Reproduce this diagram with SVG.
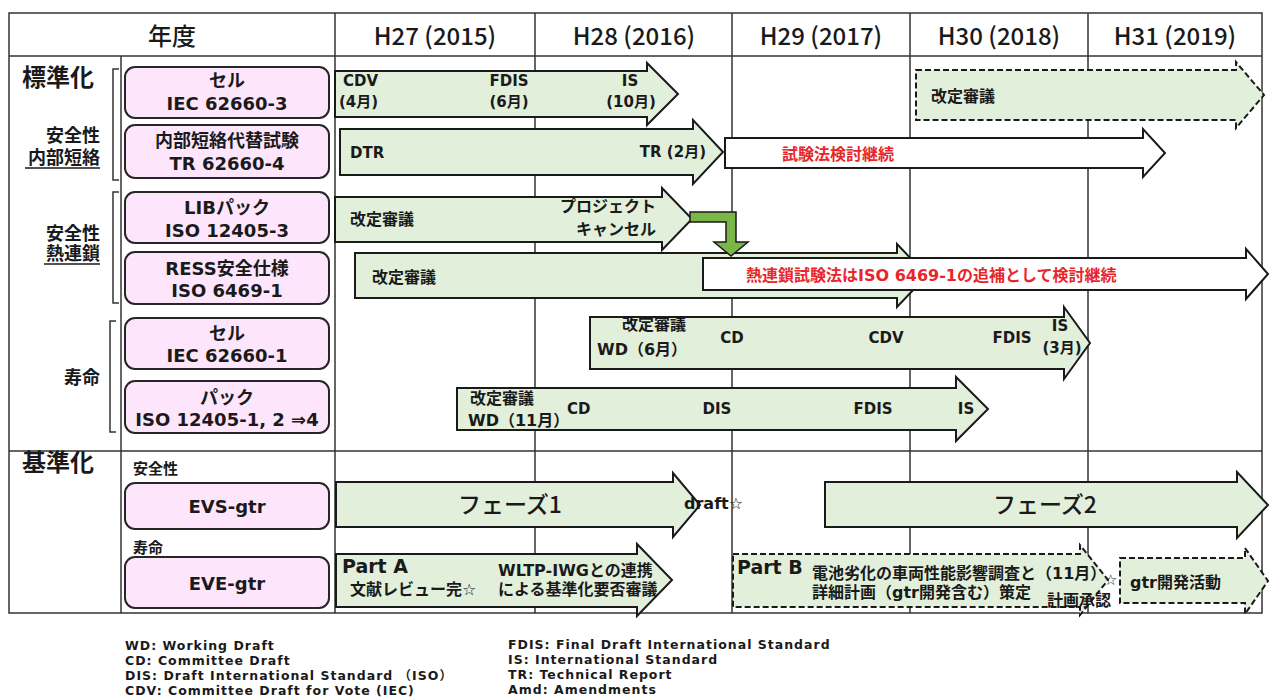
<svg xmlns="http://www.w3.org/2000/svg" width="1271" height="699" viewBox="0 0 1271 699">
<style>
text{font-family:"DejaVu Sans","Noto Sans CJK JP",sans-serif;font-weight:bold;fill:#1a1a1a;dominant-baseline:central}
.hd{font-family:"Noto Sans CJK JP",sans-serif;font-weight:500;font-size:24px;text-anchor:middle}
.grid{stroke:#333;stroke-width:1.5;fill:none}
.box{fill:#fde6fc;stroke:#262626;stroke-width:2}
.bt{font-size:18px;text-anchor:middle}
.cat{font-size:24px}
.sub{font-size:18px;text-anchor:end}
.gs{font-size:15px}
.arr{fill:#e2efda;stroke:#1a1a1a;stroke-width:2}
.dash{fill:#e2efda;stroke:#1a1a1a;stroke-width:2;stroke-dasharray:6 3}
.wh{fill:#fff;stroke:#1a1a1a;stroke-width:2}
.al{font-size:15px}
.cj{font-size:16px}
.mid{text-anchor:middle}
.end{text-anchor:end}
.red{fill:#e8262a}
.ph{font-family:"Noto Sans CJK JP",sans-serif;font-weight:500;font-size:23px;text-anchor:middle}
.pt{font-size:19px}
.lg{font-size:12.5px;letter-spacing:1px}
.brk{stroke:#333;stroke-width:1.5;fill:none}
.ul{stroke:#1a1a1a;stroke-width:1.3}
</style>
<rect width="1271" height="699" fill="#fff"/>
<g id="grid">
<rect class="grid" x="9" y="13" width="1253" height="600"/>
<line class="grid" x1="9" y1="56" x2="1262" y2="56"/>
<line class="grid" x1="9" y1="451" x2="1262" y2="451"/>
<line class="grid" x1="121" y1="56" x2="121" y2="613"/>
<line class="grid" x1="335" y1="13" x2="335" y2="613"/>
<line class="grid" x1="535" y1="13" x2="535" y2="613"/>
<line class="grid" x1="732" y1="13" x2="732" y2="613"/>
<line class="grid" x1="910" y1="13" x2="910" y2="613"/>
<line class="grid" x1="1088" y1="13" x2="1088" y2="613"/>
</g>
<g id="header">
<text class="hd" x="172" y="34">年度</text>
<text class="hd" x="435" y="34">H27 (2015)</text>
<text class="hd" x="634" y="34">H28 (2016)</text>
<text class="hd" x="821" y="34">H29 (2017)</text>
<text class="hd" x="999" y="34">H30 (2018)</text>
<text class="hd" x="1175" y="34">H31 (2019)</text>
</g>
<g id="categories">
<text class="cat" x="22" y="78">標準化</text>
<text class="sub" x="100" y="135">安全性</text>
<text class="sub" x="100" y="157">内部短絡</text>
<line class="ul" x1="25" y1="168" x2="100" y2="168"/>
<text class="sub" x="100" y="233">安全性</text>
<text class="sub" x="100" y="253">熱連鎖</text>
<line class="ul" x1="44" y1="264" x2="100" y2="264"/>
<text class="sub" x="100" y="377">寿命</text>
<path class="brk" d="M119,69 H113 V180 H119"/>
<path class="brk" d="M119,192 H113 V303 H119"/>
<path class="brk" d="M116,321 H110 V432 H116"/>
<text class="cat" x="22" y="463">基準化</text>
<text class="gs" x="133" y="469">安全性</text>
<text class="gs" x="133" y="548">寿命</text>
</g>
<g id="node-cell3">
<rect class="box" x="125" y="67" width="204" height="51" rx="10"/>
<text class="bt" x="227" y="80">セル</text>
<text class="bt" x="227" y="103">IEC 62660-3</text>
</g>
<g id="node-tr4">
<rect class="box" x="125" y="125" width="204" height="53" rx="10"/>
<text class="bt" x="227" y="140">内部短絡代替試験</text>
<text class="bt" x="227" y="163">TR 62660-4</text>
</g>
<g id="node-lib">
<rect class="box" x="125" y="192" width="204" height="51" rx="10"/>
<text class="bt" x="227" y="207">LIBパック</text>
<text class="bt" x="227" y="230">ISO 12405-3</text>
</g>
<g id="node-ress">
<rect class="box" x="125" y="252" width="204" height="52" rx="10"/>
<text class="bt" x="227" y="268">RESS安全仕様</text>
<text class="bt" x="227" y="290">ISO 6469-1</text>
</g>
<g id="node-cell1">
<rect class="box" x="125" y="318" width="204" height="51" rx="10"/>
<text class="bt" x="227" y="333">セル</text>
<text class="bt" x="227" y="355">IEC 62660-1</text>
</g>
<g id="node-pack">
<rect class="box" x="125" y="381" width="204" height="52" rx="10"/>
<text class="bt" x="227" y="397">パック</text>
<text class="bt" x="227" y="419">ISO 12405-1, 2 ⇒4</text>
</g>
<g id="node-evs">
<rect class="box" x="125" y="483" width="204" height="46" rx="10"/>
<text class="bt" x="227" y="506">EVS-gtr</text>
</g>
<g id="node-eve">
<rect class="box" x="125" y="557" width="204" height="51" rx="10"/>
<text class="bt" x="227" y="583">EVE-gtr</text>
</g>
<g id="bar-cell3">
<path class="arr" d="M335,71 H647 V63 L678,94 L647,125 V117 H335 Z"/>
<text class="al" x="343" y="81">CDV</text>
<text class="al" x="339" y="102">(4月)</text>
<text class="al mid" x="509" y="81">FDIS</text>
<text class="al mid" x="509" y="102">(6月)</text>
<text class="al mid" x="630" y="81">IS</text>
<text class="al mid" x="631" y="102">(10月)</text>
</g>
<g id="bar-cell3-rev">
<path class="dash" d="M916,70 H1236 V62 L1264,95 L1236,128 V120 H916 Z"/>
<text class="cj" x="931" y="96">改定審議</text>
</g>
<g id="bar-tr4">
<path class="arr" d="M340,129 H693 V120 L723,152 L693,184 V175 H340 Z"/>
<text class="al" x="350" y="153">DTR</text>
<text class="al end" x="706" y="152">TR (2月)</text>
</g>
<g id="bar-tr4-cont">
<path class="wh" d="M725,138 H1143 V129 L1165,153 L1143,177 V168 H725 Z"/>
<text class="cj red" x="782" y="154">試験法検討継続</text>
</g>
<g id="bar-lib">
<path class="arr" d="M335,197 H662 V188 L692,219 L662,250 V242 H335 Z"/>
<text class="cj" x="350" y="219">改定審議</text>
<text class="cj end" x="656" y="206">プロジェクト</text>
<text class="cj end" x="656" y="229">キャンセル</text>
</g>
<g id="bar-ress">
<path class="arr" d="M355,253 H897 V244 L927,275.5 L897,307 V298 H355 Z"/>
<text class="cj" x="372" y="277">改定審議</text>
</g>
<g id="bar-ress-cont">
<path class="wh" d="M703,258 H1246 V249 L1268,274 L1246,299 V290 H703 Z"/>
<text class="cj red" x="746" y="275">熱連鎖試験法はISO 6469-1の追補として検討継続</text>
</g>
<g id="bar-cell1">
<path class="arr" d="M590,317 H1064 V307 L1090,343 L1064,379 V369 H590 Z"/>
<text class="cj mid" x="654" y="324">改定審議</text>
<text class="cj" x="597" y="349">WD（6月）</text>
<text class="al mid" x="732" y="338">CD</text>
<text class="al mid" x="886" y="338">CDV</text>
<text class="al mid" x="1012" y="338">FDIS</text>
<text class="al mid" x="1060" y="326">IS</text>
<text class="al mid" x="1062" y="348">(3月)</text>
</g>
<g id="bar-pack">
<path class="arr" d="M457,388 H956 V377 L988,409 L956,441 V430 H457 Z"/>
<text class="cj" x="470" y="398">改定審議</text>
<text class="cj" x="468" y="420">WD（11月）</text>
<text class="al" x="567" y="409">CD</text>
<text class="al mid" x="717" y="409">DIS</text>
<text class="al mid" x="873" y="409">FDIS</text>
<text class="al mid" x="966" y="409">IS</text>
</g>
<g id="bar-evs1">
<path class="arr" d="M336,482 H673 V473 L700,505 L673,537 V527 H336 Z"/>
<text class="ph" x="510" y="503">フェーズ1</text>
<text class="cj" x="684" y="503">draft☆</text>
</g>
<g id="bar-evs2">
<path class="arr" d="M825,482 H1237 V472 L1268,505 L1237,538 V527 H825 Z"/>
<text class="ph" x="1045" y="503">フェーズ2</text>
</g>
<g id="bar-eve-a">
<path class="arr" d="M336,554 H637 V544 L672,580 L637,616 V607 H336 Z"/>
<text class="pt" x="342" y="566">Part A</text>
<text class="cj" x="350" y="589">文献レビュー完☆</text>
<text class="cj" x="498" y="570">WLTP-IWGとの連携</text>
<text class="cj" x="498" y="589">による基準化要否審議</text>
</g>
<g id="bar-eve-b">
<path class="dash" d="M733,554 H1080 V545 L1108,580 L1080,615 V607 H733 Z"/>
<text class="pt" x="737" y="567">Part B</text>
<text class="cj" x="812" y="573">電池劣化の車両性能影響調査と（11月）</text>
<text class="cj" x="812" y="592">詳細計画（gtr開発含む）策定</text>
<text class="cj" x="1047" y="600">計画承認</text>
<text class="al" x="1104" y="580">☆</text>
</g>
<g id="bar-eve-gtr">
<path class="dash" d="M1120,558 H1245 V548 L1268,581 L1245,614 V603 H1120 Z"/>
<text class="cj" x="1130" y="582">gtr開発活動</text>
</g>
<g id="connectors">
<path d="M690,212 H736 V242 H748 L731,256 L714,242 H726 V222 H690 Z" fill="#7ab648" stroke="#1a1a1a" stroke-width="1.5"/>
</g>
<g id="legend">
<text class="lg" x="125" y="645">WD: Working Draft</text>
<text class="lg" x="125" y="660">CD: Committee Draft</text>
<text class="lg" x="125" y="675">DIS: Draft International Standard （ISO）</text>
<text class="lg" x="125" y="690">CDV: Committee Draft for Vote (IEC)</text>
<text class="lg" x="508" y="644">FDIS: Final Draft International Standard</text>
<text class="lg" x="508" y="659">IS: International Standard</text>
<text class="lg" x="508" y="674">TR: Technical Report</text>
<text class="lg" x="508" y="689">Amd: Amendments</text>
</g>
</svg>
